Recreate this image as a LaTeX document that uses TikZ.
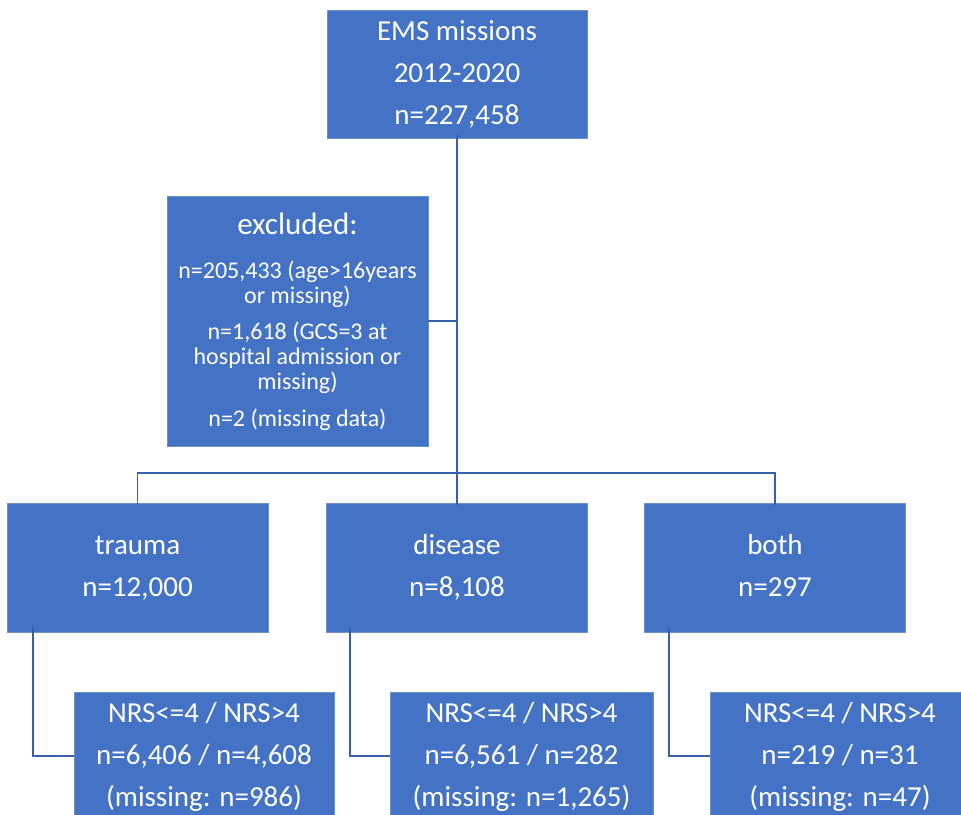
\documentclass[tikz,border=0pt]{standalone}
\usepackage{fontspec}
\setmainfont{Carlito}
\definecolor{boxblue}{HTML}{4472C4}
\definecolor{boxedge}{HTML}{6A8FD2}
\definecolor{linkblue}{HTML}{3560AE}
\newcommand{\tallph}{\vphantom{Ay(,}}
\begin{document}
\begin{tikzpicture}[x=1pt,y=-1pt,
  box/.style={fill=boxblue,draw=boxedge,line width=0.8pt,text=white,align=center,
    inner sep=0pt,font=\fontsize{29}{42}\selectfont},
  link/.style={draw=linkblue,line width=1.9pt}]
\useasboundingbox (0,0) rectangle (961,814);
\node[box,minimum width=260pt,minimum height=128pt] (top) at (457,74)
  {\tallph EMS missions\\2012-2020\\n=227,458\tallph};
\node[box,minimum width=261pt,minimum height=250pt,font=\fontsize{24}{25}\selectfont] (excl) at (297.5,321)
  {{\fontsize{31}{31}\selectfont\tallph excluded:}\\[19pt]
   n=205,433 (age>16years\\or missing)\\[11.5pt]
   n=1,618 (GCS=3 at\\hospital admission or\\missing)\\[11.5pt]
   n=2 (missing data)\tallph};
\node[box,minimum width=261pt,minimum height=129pt] (trauma) at (137.5,567.5) {\tallph trauma\\n=12,000\tallph};
\node[box,minimum width=261pt,minimum height=129pt] (disease) at (457,567.5) {\tallph disease\\n=8,108\tallph};
\node[box,minimum width=261pt,minimum height=129pt] (both) at (775,567.5) {\tallph both\\n=297\tallph};
\node[box,minimum width=260pt,minimum height=128pt] (nrsa) at (204,756)
  {\tallph NRS<=4 / NRS>4\\n=6,406 / n=4,608\\(missing: n=986)\tallph};
\node[box,minimum width=263pt,minimum height=128pt] (nrsb) at (521.5,756)
  {\tallph NRS<=4 / NRS>4\\n=6,561 / n=282\\(missing: n=1,265)\tallph};
\node[box,minimum width=260pt,minimum height=128pt] (nrsc) at (840,756)
  {\tallph NRS<=4 / NRS>4\\n=219 / n=31\\(missing: n=47)\tallph};
\coordinate (bus) at (457,473);
\draw[link] ([yshift=3pt]top.south) -- (bus);
\draw[link] (excl.east) -- (excl.east -| top.south);
\draw[link] ([yshift=-2pt]trauma.north) |- (bus) -| ([yshift=-2pt]both.north);
\draw[link] (bus) -- ([yshift=-2pt]disease.north);
\draw[link] ([xshift=26pt,yshift=4pt]trauma.south west) |- (nrsa.west);
\draw[link] ([xshift=24pt,yshift=4pt]disease.south west) |- (nrsb.west);
\draw[link] ([xshift=25pt,yshift=4pt]both.south west) |- (nrsc.west);
\end{tikzpicture}
\end{document}
